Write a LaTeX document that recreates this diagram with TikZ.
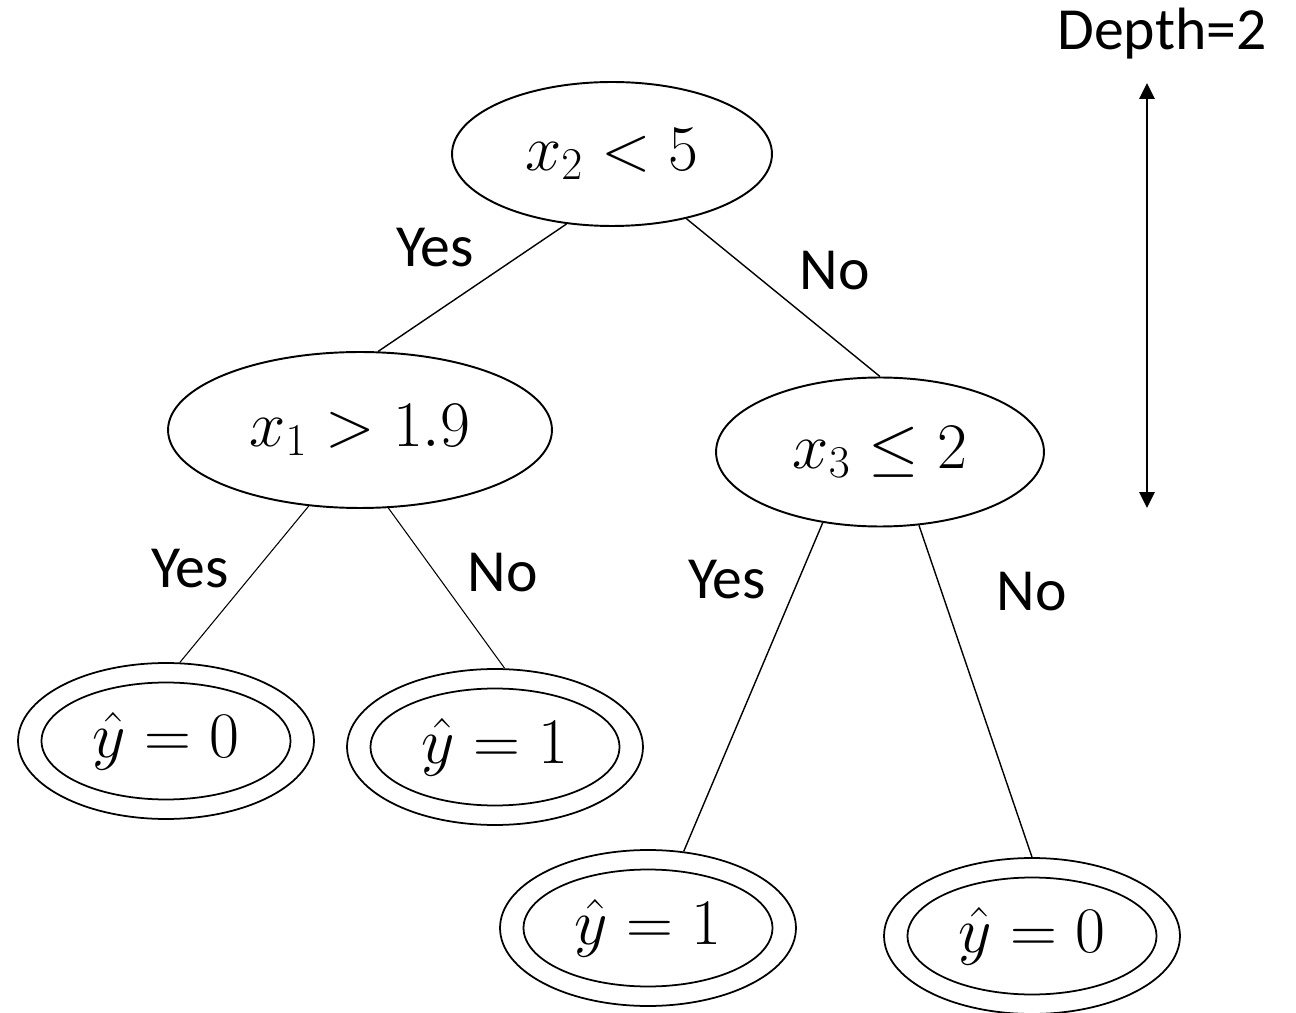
\RequirePackage{fix-cm}
\documentclass[tikz,border=0pt]{standalone}
\usepackage[no-math]{fontspec}
\newfontfamily\calib{Carlito}
\usetikzlibrary{shapes.geometric,arrows.meta}
\begin{document}
\begin{tikzpicture}[x=0.02cm,y=-0.02cm,
  decision/.style={ellipse,draw,line width=1.1pt,inner sep=0pt,font=\fontsize{37}{44}\selectfont},
  leafout/.style={ellipse,draw,line width=1pt,inner sep=0pt,minimum width=5.92cm,minimum height=3.12cm},
  leafin/.style={ellipse,draw,line width=1pt,inner sep=0pt,minimum width=4.98cm,minimum height=2.34cm,font=\fontsize{37}{44}\selectfont},
  lbl/.style={inner sep=0pt,anchor=base,font=\calib\fontsize{34}{40}\selectfont},
  edge/.style={line width=0.8pt},
  thinedge/.style={line width=0.6pt},
  depth/.style={line width=1.5pt,{Triangle[length=9pt,width=8.5pt]}-{Triangle[length=9pt,width=8.5pt]}}]
\useasboundingbox (0,0) rectangle (1296,1013);
% decision nodes
\node[decision,minimum width=6.4cm,minimum height=2.88cm] (root) at (612,154) {$x_2<5$};
\node[decision,minimum width=7.68cm,minimum height=3.12cm] (A) at (360,430) {$x_1>1.9$};
\node[decision,minimum width=6.56cm,minimum height=2.98cm] (B) at (880,452) {$x_3\leq 2$};
% leaves
\node[leafout] (l1) at (166,741) {};
\node[leafin] (l1i) at (l1.center) {$\hat{y}=0$};
\node[leafout] (l2) at (495,747) {};
\node[leafin] (l2i) at (l2.center) {$\hat{y}=1$};
\node[leafout] (l3) at (648,928) {};
\node[leafin] (l3i) at (l3.center) {$\hat{y}=1$};
\node[leafout] (l4) at (1032,936) {};
\node[leafin] (l4i) at (l4.center) {$\hat{y}=0$};
% connectors
\draw[edge] (root.237.4) -- (A.77);
\draw[edge] (root.319.5) -- (B.90);
\draw[thinedge] (A.236.3) -- (l1.80.5);
\draw[thinedge] (A.290.7) -- (l2.83);
\draw[edge] (B.231.6) -- (l3.65.8);
\draw[edge] (B.298.2) -- (l4.90);
% labels
\node[lbl] (yes0) at (435,267) {Yes};
\node[lbl] (no0) at (835,290) {No};
\node[lbl] (yes1) at (190,588) {Yes};
\node[lbl] (no1) at (503,592) {No};
\node[lbl] (yes2) at (727,599) {Yes};
\node[lbl] (no2) at (1032,611) {No};
% depth
\node[lbl] (depthlbl) at (1162,50) {Depth=2};
\coordinate (dtop) at (1147,83);
\coordinate (dbot) at (1147,508);
\draw[depth] (dtop) -- (dbot);
\end{tikzpicture}
\end{document}
